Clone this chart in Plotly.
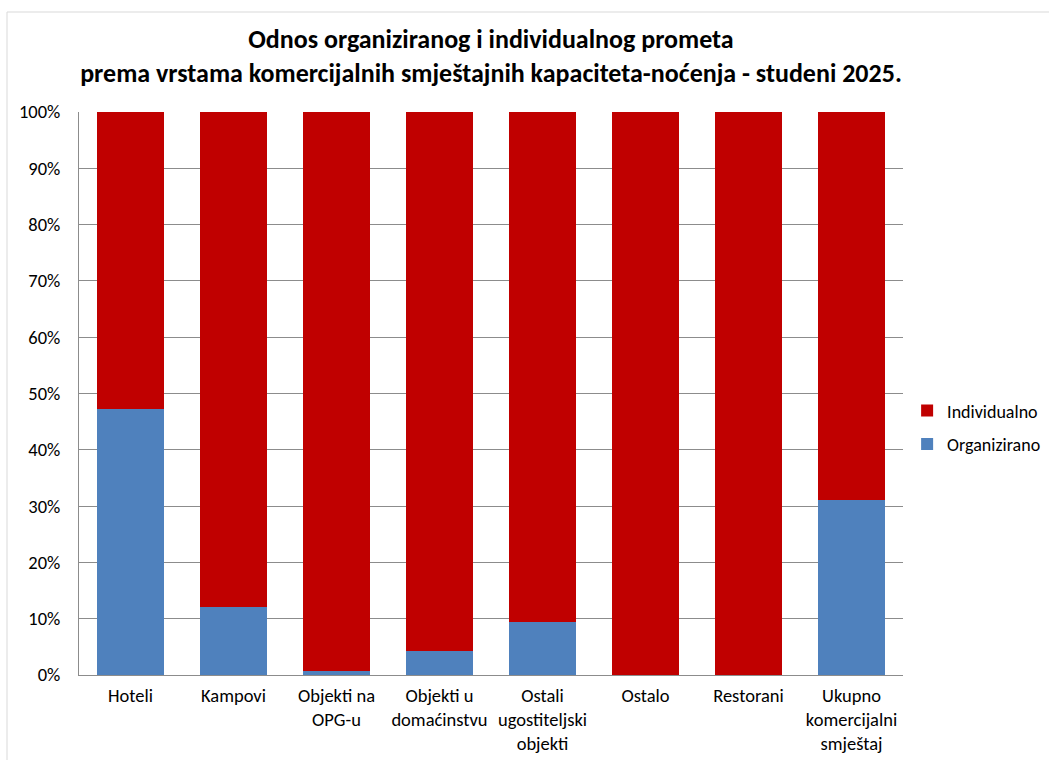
import plotly.graph_objects as go

categories = ["Hoteli", "Kampovi", "Objekti na<br>OPG-u", "Objekti u<br>domaćinstvu",
              "Ostali<br>ugostiteljski<br>objekti", "Ostalo", "Restorani",
              "Ukupno<br>komercijalni<br>smještaj"]
organizirano = [47.2, 12.1, 0.8, 4.3, 9.5, 0.0, 0.0, 31.1]
individualno = [round(100 - v, 1) for v in organizirano]
yticks = list(range(0, 101, 10))
ytick_labels = [f"{v}%" for v in yticks]

FONT = "Calibri, Carlito, Lato, sans-serif"

fig = go.Figure()
fig.add_trace(go.Bar(x=categories, y=organizirano, name="Organizirano",
                     legendrank=2, legendgroup="o",
                     marker=dict(color="#4F81BD", line=dict(width=0))))
fig.add_trace(go.Bar(x=categories, y=individualno, name="Individualno",
                     legendrank=1, legendgroup="i",
                     marker=dict(color="#C00000", line=dict(width=0))))

fig.update_layout(
    barmode="stack",
    bargap=0.34,
    width=1049, height=760,
    autosize=False,
    margin=dict(l=79, r=146, t=112, b=85, autoexpand=False),
    paper_bgcolor="white", plot_bgcolor="white",
    font=dict(family=FONT, size=18.5, color="#000000"),
    title=dict(
        text="<b>Odnos organiziranog i individualnog prometa<br>prema vrstama komercijalnih smještajnih kapaciteta-noćenja - studeni 2025.</b>",
        x=0.5, xanchor="center", xref="paper", y=1 - 48 / 760, yanchor="middle",
        font=dict(family=FONT, size=26, color="#000000")),
    legend=dict(x=1.005, y=0.44, xanchor="left", yanchor="middle",
                traceorder="grouped", tracegroupgap=7,
                font=dict(family=FONT, size=18), itemwidth=30),
    showlegend=True,
)
fig.update_yaxes(range=[0, 100], tickvals=yticks, ticktext=ytick_labels,
                 showgrid=True, gridcolor="#8c8c8c", gridwidth=1,
                 showline=True, linecolor="#8c8c8c", linewidth=1,
                 ticks="", ticklabelstandoff=14,
                 zeroline=False, tickfont=dict(family=FONT, size=18.5))
fig.update_xaxes(showline=True, linecolor="#8c8c8c", linewidth=1,
                 ticks="", ticklabelstandoff=4, tickfont=dict(family=FONT, size=18.5))

fig.add_shape(type="rect", xref="paper", yref="paper",
              x0=(7 - 79) / 824, x1=1.2, y0=-0.2, y1=(675 - 12) / 563,
              line=dict(color="#d9d9d9", width=1), fillcolor="rgba(0,0,0,0)",
              layer="below")

fig.write_html("out.html",
               config={"responsive": False, "displayModeBar": False},
               post_script="document.body.style.margin='0';document.body.style.overflow='hidden';")
